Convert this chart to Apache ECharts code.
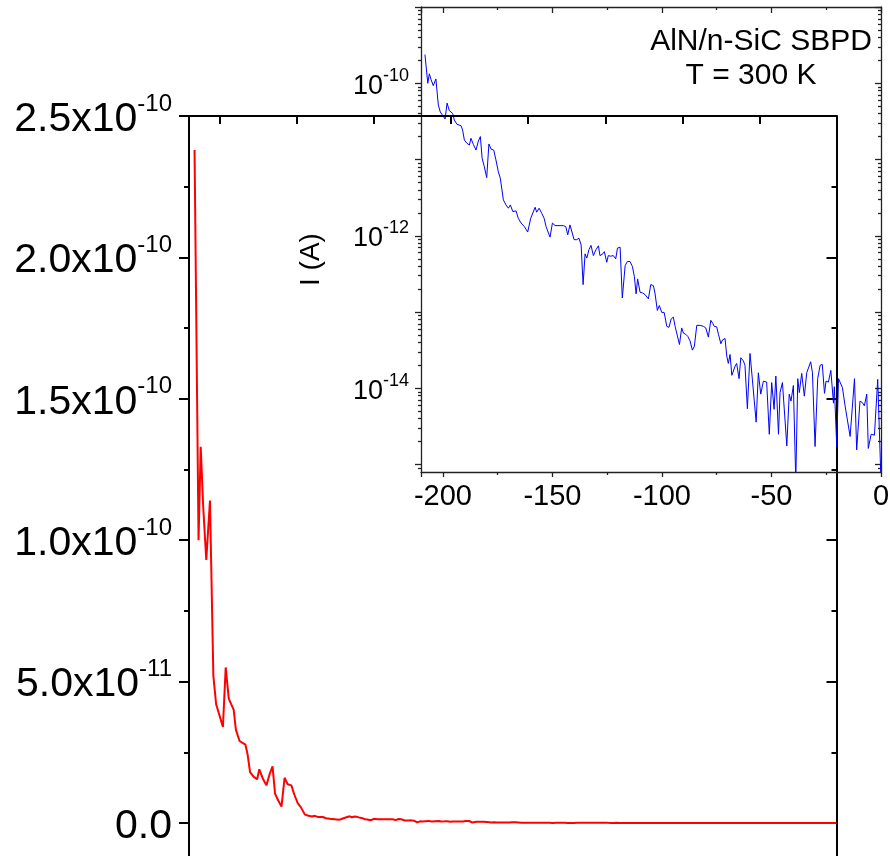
<!DOCTYPE html>
<html>
<head>
<meta charset="utf-8">
<script src="https://cdn.jsdelivr.net/npm/echarts@6/dist/echarts.min.js"></script>
<style>
  html, body { margin: 0; padding: 0; background: #fff; }
  #chart { width: 890px; height: 856px; }
</style>
</head>
<body>
<div id="chart"></div>
<script>
// ---- data ----
const voltage = [
  -208.2, -206.9, -206.2, -205.4, -204.4, -203.2, -202.1, -201.2, -200.1, -199.0,
  -198.1, -197.1, -195.5, -194.8, -193.6, -191.7, -191.0, -190.2, -189.0, -187.9,
  -187.2, -186.1, -184.9, -183.8, -182.9, -182.1, -181.1, -180.0, -179.0, -178.0,
  -176.8, -175.8, -174.7, -173.8, -172.4, -171.2, -170.1, -169.2, -168.1, -166.6,
  -165.6, -164.3, -162.8, -161.3, -159.9, -157.9, -157.2, -156.1, -154.9, -153.8,
  -152.9, -152.2, -151.1, -150.0, -148.8, -146.5, -145.0, -143.9, -143.0, -142.0,
  -141.2, -140.1, -138.9, -137.9, -136.9, -136.0, -135.1, -134.3, -133.3, -132.4,
  -131.3, -130.1, -129.0, -128.3, -127.0, -126.3, -125.2, -124.5, -123.4, -122.2,
  -121.1, -120.3, -119.1, -118.1, -116.8, -115.8, -114.6, -113.5, -112.6, -111.8,
  -111.1, -110.0, -108.8, -107.7, -106.2, -105.1, -103.9, -103.2, -102.1, -101.2,
  -100.1, -99.0, -97.8, -96.8, -95.8, -94.8, -94.0, -93.2, -92.0, -91.0,
  -90.2, -89.1, -88.2, -87.2, -86.1, -85.2, -84.1, -82.6, -81.1, -80.0,
  -78.8, -77.7, -76.8, -76.1, -75.0, -74.2, -73.1, -72.4, -71.2, -70.4,
  -69.7, -68.9, -68.1, -66.6, -65.9, -64.8, -64.0, -62.8, -62.1, -61.0,
  -59.8, -58.7, -57.9, -57.0, -56.0, -54.9, -53.7, -52.2, -51.0, -49.9,
  -48.8, -48.0, -46.8, -46.1, -45.0, -43.0, -41.9, -41.1, -40.0, -38.9,
  -38.0, -37.3, -36.2, -35.0, -33.9, -32.1, -31.3, -30.1, -28.9, -27.8,
  -26.8, -25.8, -25.1, -24.0, -22.9, -21.7, -21.3, -20.2, -19.4, -17.6,
  -16.4, -14.1, -12.1, -11.1, -9.6, -8.5, -7.6, -6.5, -5.8, -4.5,
  -3.0, -1.5, 0.0
];
const current = [
  2.38e-10, 1.00e-10, 1.33e-10, 1.12e-10, 0.93e-10, 1.14e-10, 5.2e-11, 4.2e-11, 3.8e-11, 3.4e-11,
  5.5e-11, 4.4e-11, 4.0e-11, 3.3e-11, 2.9e-11, 2.77e-11, 2.43e-11, 1.8e-11, 1.63e-11, 1.55e-11,
  1.9e-11, 1.58e-11, 1.33e-11, 1.75e-11, 2.0e-11, 1.04e-11, 8.05e-12, 5.8e-12, 1.6e-11, 1.37e-11,
  1.33e-11, 9.9e-12, 6.9e-12, 5.7e-12, 2.96e-12, 2.54e-12, 2.3e-12, 2.54e-12, 2.08e-12, 2.12e-12,
  1.7e-12, 1.47e-12, 1.32e-12, 1.12e-12, 1.7e-12, 2.37e-12, 2.04e-12, 2.3e-12, 1.98e-12, 1.7e-12,
  1.32e-12, 1.26e-12, 9.6e-13, 1.47e-12, 1.36e-12, 1.36e-12, 1.36e-12, 1.32e-12, 1.03e-12, 1.39e-12,
  1.35e-12, 8.9e-13, 8.9e-13, 9.3e-13, 7.6e-13, 2.29e-13, 5.8e-13, 5.1e-13, 6.6e-13, 7.5e-13,
  5.5e-13, 6.6e-13, 7.4e-13, 5.5e-13, 5.8e-13, 6.2e-13, 4.5e-13, 5.5e-13, 5.4e-13, 5.5e-13,
  5.0e-13, 6.9e-13, 7.1e-13, 1.53e-13, 4.06e-13, 4.6e-13, 4.6e-13, 3.97e-13, 2.94e-13, 1.73e-13,
  2.72e-13, 1.82e-13, 1.78e-13, 1.69e-13, 1.49e-13, 2.29e-13, 2.22e-13, 1.78e-13, 1.05e-13, 1.22e-13,
  9.9e-14, 9.9e-14, 6.5e-14, 6.3e-14, 8.1e-14, 8.6e-14, 6.5e-14, 6.3e-14, 3.76e-14, 6.2e-14,
  5.3e-14, 5.1e-14, 4.8e-14, 4.2e-14, 3.17e-14, 3.57e-14, 6.7e-14, 6.7e-14, 6.5e-14, 6.2e-14,
  4.7e-14, 7.8e-14, 7.1e-14, 6.5e-14, 6.4e-14, 5.1e-14, 3.84e-14, 4.3e-14, 4.5e-14, 2.64e-14,
  2.12e-14, 2.78e-14, 1.48e-14, 1.96e-14, 2.12e-14, 1.34e-14, 2.52e-14, 2.28e-14, 2.0e-14, 5.4e-15,
  2.87e-14, 1.29e-14, 1.29e-14, 3.6e-15, 1.6e-14, 8.4e-15, 1.24e-14, 1.21e-14, 2.5e-15, 1.19e-14,
  5.3e-15, 1.45e-14, 2.5e-15, 8.8e-15, 1.19e-14, 1.76e-15, 8.4e-15, 6.8e-15, 1.09e-14, 6.0e-16,
  1.34e-14, 8.8e-15, 1.57e-14, 7.9e-15, 1.6e-14, 2.23e-14, 1.6e-14, 1.73e-15, 1.34e-14, 2.0e-14,
  2.06e-14, 8.6e-15, 1.24e-14, 1.21e-14, 1.72e-14, 6.4e-15, 1.05e-14, 1.73e-15, 1.34e-14, 1.02e-14,
  5.9e-15, 2.34e-15, 1.34e-14, 1.56e-15, 6.8e-15, 6.5e-15, 5.9e-15, 8.4e-15, 1.63e-15, 2.5e-15,
  2.43e-15, 1.31e-14, 6.0e-16
];
const insetXLabels = [-200, -150, -100, -50, 0];
const insetYLabels = [1e-14, 1e-12, 1e-10];
const insetYMajor = [1e-15, 1e-14, 1e-13, 1e-12, 1e-11, 1e-10, 1e-9];
const insetYMinor = [9e-16];
[1e-15, 1e-14, 1e-13, 1e-12, 1e-11, 1e-10].forEach(function (d) {
  for (let k = 2; k <= 9; k++) insetYMinor.push(+(k * d).toPrecision(3));
});
const titleLine1 = 'AlN/n-SiC SBPD';
const titleLine2 = 'T = 300 K';
const insetYName = 'I (A)';

const pairs = voltage.map(function (v, i) { return [v, current[i]]; });

const FONT = 'Liberation Sans, Arial, Helvetica, sans-serif';

function sciLabel(v) {
  if (Math.abs(v) < 1e-20) return '{b|0.0}';
  const e = Math.floor(Math.log10(Math.abs(v)) + 1e-9);
  const m = v / Math.pow(10, e);
  return '{b|' + m.toFixed(1) + 'x10}{s|' + e + '}';
}
function powLabel(v) {
  const e = Math.round(Math.log10(v));
  return '{b|10}{s|' + e + '}';
}

const chart = echarts.init(document.getElementById('chart'));

const mainLine = { show: true, onZero: false, lineStyle: { color: '#000', width: 2 } };
const insetLine = { show: true, onZero: false, lineStyle: { color: '#222', width: 1.3 } };
const noLine = { show: false, onZero: false };
const xRange = { type: 'value', min: -210, max: 0, minInterval: 50, maxInterval: 50 };

chart.setOption({
  animation: false,
  title: [
    { text: titleLine1, left: 756, top: 22, textAlign: 'center',
      textStyle: { fontFamily: FONT, fontSize: 30, fontWeight: 'normal', color: '#000' } },
    { text: titleLine2, left: 746, top: 56, textAlign: 'center',
      textStyle: { fontFamily: FONT, fontSize: 30, fontWeight: 'normal', color: '#000' } }
  ],
  grid: [
    { left: 189, top: 116, width: 647.5, height: 848.4, containLabel: false, outerBoundsMode: 'none' },
    { left: 421, top: 7, width: 460, height: 465, containLabel: false, outerBoundsMode: 'none' }
  ],
  xAxis: [
    Object.assign({ gridIndex: 0, position: 'bottom',
      axisLine: mainLine, axisTick: { show: false }, axisLabel: { show: false }, splitLine: { show: false } }, xRange),
    Object.assign({ gridIndex: 0, position: 'top', z: 10,
      axisLine: mainLine,
      axisTick: { show: true, inside: true, length: 8, lineStyle: { color: '#000', width: 2 } },
      minorTick: { show: true, splitNumber: 2, length: 8, lineStyle: { color: '#000', width: 2 } },
      axisLabel: { show: false }, splitLine: { show: false } }, xRange),
    Object.assign({ gridIndex: 1, position: 'bottom', z: 10,
      axisLine: insetLine,
      axisTick: { show: true, inside: false, length: 5, lineStyle: { color: '#222', width: 1.3 } },
      minorTick: { show: true, splitNumber: 2, length: 3, lineStyle: { color: '#222', width: 1.3 } },
      axisLabel: { show: true, customValues: insetXLabels, margin: 10, color: '#000', fontFamily: FONT, fontSize: 29 },
      splitLine: { show: false } }, xRange),
    Object.assign({ gridIndex: 1, position: 'top', z: 10,
      axisLine: insetLine,
      axisTick: { show: true, inside: true, length: 6, lineStyle: { color: '#222', width: 1.3 } },
      minorTick: { show: true, splitNumber: 2, length: 3, lineStyle: { color: '#222', width: 1.3 } },
      axisLabel: { show: false }, splitLine: { show: false } }, xRange)
  ],
  yAxis: [
    { gridIndex: 0, type: 'value', min: -5e-11, max: 2.5e-10, interval: 5e-11, position: 'left',
      axisLine: mainLine,
      axisTick: { show: true, inside: false, length: 10, lineStyle: { color: '#000', width: 2 } },
      minorTick: { show: true, splitNumber: 2, length: 5, lineStyle: { color: '#000', width: 2 } },
      axisLabel: { show: true, margin: 17, formatter: sciLabel, showMaxLabel: true,
        rich: {
          b: { fontFamily: FONT, fontSize: 41, lineHeight: 48, verticalAlign: 'bottom', color: '#000' },
          s: { fontFamily: FONT, fontSize: 24, lineHeight: 24, verticalAlign: 'top', color: '#000' }
        } },
      splitLine: { show: false } },
    { gridIndex: 0, type: 'value', min: -5e-11, max: 2.5e-10, interval: 5e-11, position: 'right',
      axisLine: mainLine,
      axisTick: { show: true, inside: true, length: 10, lineStyle: { color: '#000', width: 2 } },
      minorTick: { show: true, splitNumber: 2, length: 5, lineStyle: { color: '#000', width: 2 } },
      axisLabel: { show: false }, splitLine: { show: false } },
    { gridIndex: 1, type: 'log', min: 8e-16, max: 1e-9, position: 'left',
      name: insetYName, nameLocation: 'middle', nameGap: 96, nameRotate: 90,
      nameTextStyle: { fontFamily: FONT, fontSize: 28, color: '#000', padding: [0, 40, 0, 0] },
      axisLine: insetLine,
      axisTick: { show: true, inside: false, length: 6, customValues: insetYMajor, lineStyle: { color: '#222', width: 1.3 } },
      axisLabel: { show: true, margin: 12, customValues: insetYLabels, formatter: powLabel,
        rich: {
          b: { fontFamily: FONT, fontSize: 27, lineHeight: 33, verticalAlign: 'bottom', color: '#000' },
          s: { fontFamily: FONT, fontSize: 18, lineHeight: 18, verticalAlign: 'top', color: '#000' }
        } },
      splitLine: { show: false } },
    { gridIndex: 1, type: 'log', min: 8e-16, max: 1e-9, position: 'left',
      axisLine: noLine,
      axisTick: { show: true, inside: false, length: 3, customValues: insetYMinor, lineStyle: { color: '#222', width: 1.3 } },
      axisLabel: { show: false }, splitLine: { show: false } },
    { gridIndex: 1, type: 'log', min: 8e-16, max: 1e-9, position: 'right',
      axisLine: insetLine,
      axisTick: { show: true, inside: true, length: 6, customValues: insetYMajor, lineStyle: { color: '#222', width: 1.3 } },
      axisLabel: { show: false }, splitLine: { show: false } },
    { gridIndex: 1, type: 'log', min: 8e-16, max: 1e-9, position: 'right',
      axisLine: noLine,
      axisTick: { show: true, inside: true, length: 3, customValues: insetYMinor, lineStyle: { color: '#222', width: 1.3 } },
      axisLabel: { show: false }, splitLine: { show: false } }
  ],
  series: [
    { type: 'line', name: 'linear', xAxisIndex: 0, yAxisIndex: 0, data: pairs,
      showSymbol: false, symbol: 'none', clip: true,
      lineStyle: { color: '#ff0000', width: 2 }, z: 3 },
    { type: 'line', name: 'log', xAxisIndex: 2, yAxisIndex: 2, data: pairs,
      showSymbol: false, symbol: 'none', clip: true,
      lineStyle: { color: '#0000ff', width: 1 }, z: 3 }
  ]
});
</script>
</body>
</html>
